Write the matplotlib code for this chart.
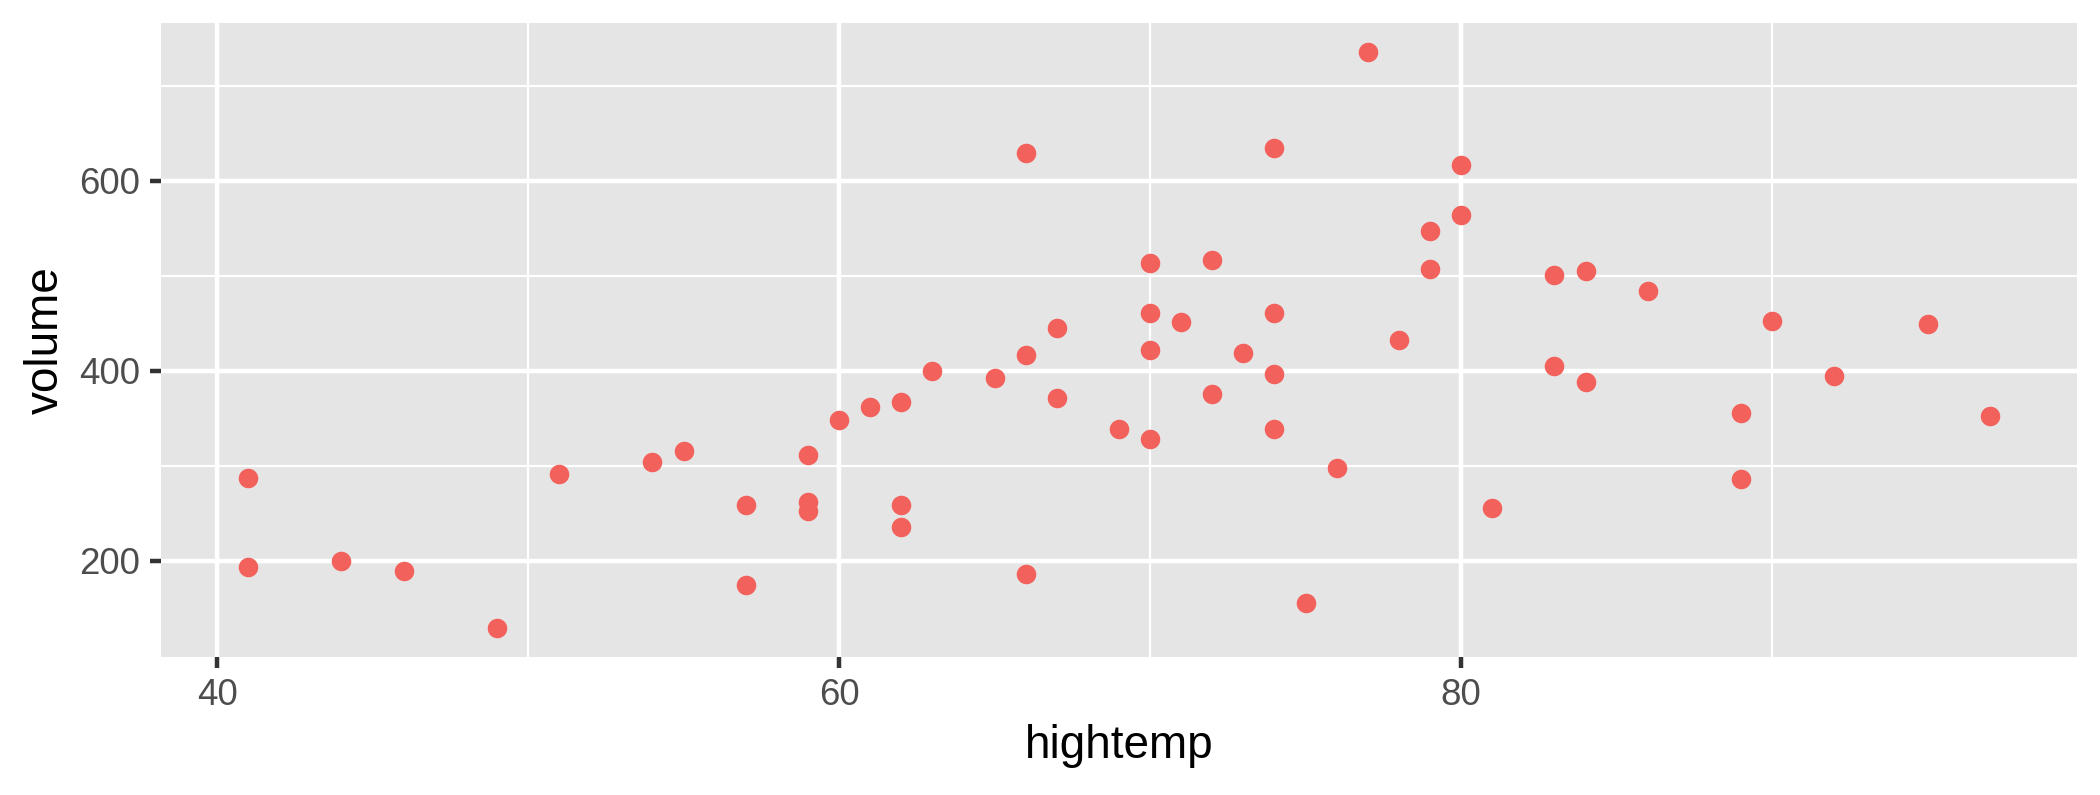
import numpy as np
import matplotlib
matplotlib.use("Agg")
import matplotlib.pyplot as plt
from matplotlib.ticker import FixedLocator

# values
hightemp = [41, 41, 44, 46, 49, 51, 54, 55, 57, 57, 59, 59, 59, 60, 61, 62, 62, 62,
            63, 65, 66, 66, 66, 67, 67, 69, 70, 70, 70, 70, 71, 72, 72, 73, 74, 74,
            74, 74, 75, 76, 77, 78, 79, 79, 80, 80, 81, 83, 83, 84, 84, 86, 89, 89,
            90, 92, 95, 97]
volume = [287, 193, 200, 189, 129, 291, 304, 316, 259, 174, 311, 262, 252, 348, 362,
          367, 259, 236, 400, 393, 417, 629, 186, 445, 371, 339, 514, 461, 422, 328,
          452, 517, 376, 419, 635, 461, 397, 339, 156, 298, 736, 432, 547, 507, 617,
          564, 256, 501, 405, 505, 388, 484, 356, 286, 453, 395, 449, 352]

x_major = [40, 60, 80]
x_minor = [50, 70, 90]
y_major = [200, 400, 600]
y_minor = [300, 500, 700]

plt.rcParams['font.family'] = ['Liberation Sans', 'DejaVu Sans']

fig, ax = plt.subplots(figsize=(7, 2.65), dpi=300)
fig.subplots_adjust(left=0.0767, right=0.989, bottom=0.1736, top=0.971)

ax.set_facecolor('#E5E5E5')
for s in ax.spines.values():
    s.set_visible(False)

# ggplot style 5% expansion
def expand(v):
    lo, hi = min(v), max(v)
    pad = 0.05 * (hi - lo)
    return lo - pad, hi + pad

ax.set_xlim(*expand(hightemp))
ax.set_ylim(*expand(volume))

ax.xaxis.set_major_locator(FixedLocator(x_major))
ax.xaxis.set_minor_locator(FixedLocator(x_minor))
ax.yaxis.set_major_locator(FixedLocator(y_major))
ax.yaxis.set_minor_locator(FixedLocator(y_minor))

ax.grid(which='major', color='white', linewidth=1.07)
ax.grid(which='minor', color='white', linewidth=0.53)
ax.set_axisbelow(True)

ax.tick_params(which='major', length=2.75, width=1.07, color='#333333',
               labelsize=8.8, labelcolor='#4D4D4D', pad=2.2)
ax.tick_params(which='minor', length=0)

ax.scatter(hightemp, volume, s=22, color='#F3615C', linewidths=0, zorder=3)

ax.set_xlabel('hightemp', fontsize=11, color='black', labelpad=2.75)
ax.set_ylabel('volume', fontsize=11, color='black', labelpad=2.75)

fig.savefig('out.png', dpi=300, facecolor='white')
